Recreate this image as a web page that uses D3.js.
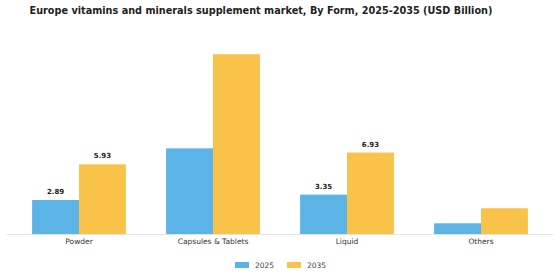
<!DOCTYPE html>
<html>
<head>
<meta charset="utf-8">
<script src="https://cdn.jsdelivr.net/npm/d3@7"></script>
<style>
  body { margin: 0; background: #fff; }
  text { font-family: "DejaVu Sans", sans-serif; }
</style>
</head>
<body>
<div id="chart"></div>
<script>
// Data
const categories = ["Powder", "Capsules & Tablets", "Liquid", "Others"];
const years = ["2025", "2035"];
const values2025 = [2.89, 7.29, 3.35, 0.91];
const values2035 = [5.93, 15.3, 6.93, 2.19];
// only some bars carry a value label
const labels2025 = ["2.89", "", "3.35", ""];
const labels2035 = ["5.93", "", "6.93", ""];

const colors = ["#5cb3e5", "#f9c34a"];

const width = 560, height = 280;
const baseline = 234;

const svg = d3.select("#chart").append("svg")
    .attr("width", width)
    .attr("height", height);

// Title
svg.append("text")
    .attr("x", 261)
    .attr("y", 14)
    .attr("text-anchor", "middle")
    .style("font-size", "9.7px")
    .style("font-weight", "bold")
    .style("fill", "#222")
    .text("Europe vitamins and minerals supplement market, By Form, 2025-2035 (USD Billion)");

// Scales
const x = d3.scaleBand()
    .domain(categories)
    .range([12, 548])
    .paddingInner(0.3)
    .paddingOuter(0.15);

const xSub = d3.scaleBand()
    .domain(years)
    .range([0, x.bandwidth()]);

const y = d3.scaleLinear()
    .domain([0, 10])
    .range([baseline, baseline - 117.5]);

const rows = categories.map((c, i) => ({
    cat: c,
    bars: [
        { year: years[0], value: values2025[i], label: labels2025[i], color: colors[0] },
        { year: years[1], value: values2035[i], label: labels2035[i], color: colors[1] }
    ]
}));

// Bars
const groups = svg.selectAll("g.bar-group")
    .data(rows)
    .enter().append("g")
    .attr("class", "bar-group")
    .attr("transform", d => `translate(${x(d.cat)},0)`);

groups.selectAll("rect")
    .data(d => d.bars)
    .enter().append("rect")
    .attr("x", d => xSub(d.year))
    .attr("width", xSub.bandwidth())
    .attr("y", d => y(d.value))
    .attr("height", d => y(0) - y(d.value))
    .attr("fill", d => d.color);

groups.selectAll("text.val")
    .data(d => d.bars.filter(b => b.label))
    .enter().append("text")
    .attr("class", "val")
    .attr("x", d => xSub(d.year) + xSub.bandwidth() / 2)
    .attr("y", d => y(d.value) - 6)
    .attr("text-anchor", "middle")
    .style("font-size", "7px")
    .style("font-weight", "bold")
    .style("fill", "#222")
    .text(d => d.label);

// Baseline / x-axis
svg.append("line")
    .attr("x1", 7)
    .attr("x2", 553)
    .attr("y1", baseline + 0.5)
    .attr("y2", baseline + 0.5)
    .attr("stroke", "#e3e3e3")
    .attr("stroke-width", 1);

const xAxis = svg.append("g")
    .attr("transform", `translate(0,${baseline})`)
    .call(d3.axisBottom(x).tickSize(0).tickPadding(5));
xAxis.select(".domain").remove();
xAxis.selectAll("text")
    .style("font-family", "DejaVu Sans, sans-serif")
    .style("font-size", "7.5px")
    .style("fill", "#333");

// Legend
const legend = svg.append("g")
    .attr("transform", "translate(235,262)");

years.forEach((yr, i) => {
    legend.append("rect")
        .attr("x", 52 * i)
        .attr("y", 0)
        .attr("width", 14)
        .attr("height", 6)
        .style("fill", colors[i]);

    legend.append("text")
        .attr("x", 52 * i + 20)
        .attr("y", 3)
        .attr("dy", ".35em")
        .style("font-size", "7.5px")
        .style("fill", "#444")
        .text(yr);
});
</script>
</body>
</html>
